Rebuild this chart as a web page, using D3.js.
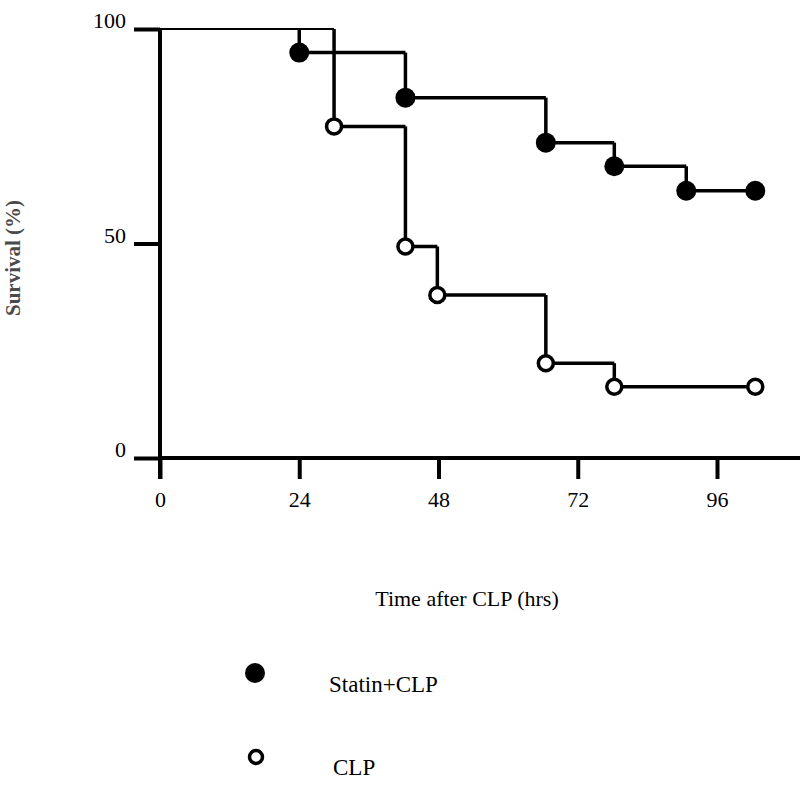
<!DOCTYPE html>
<html>
<head>
<meta charset="utf-8">
<script src="https://cdn.jsdelivr.net/npm/d3@7"></script>
<style>
  html, body { margin: 0; padding: 0; background: #fff; }
  svg { display: block; }
  text { font-family: "Liberation Serif", "Times New Roman", serif; fill: #000; }
</style>
</head>
<body>
<svg id="chart" width="800" height="787"></svg>
<script>
// ---- data ----
const xTicks = [0, 24, 48, 72, 96];
const yTicks = [0, 50, 100];
const statinTimes  = [0, 24, 42.3, 66.5, 78.3, 90.7, 102.6];
const statinValues = [100, 94.5, 84, 73.5, 68, 62.3, 62.3];
const clpTimes  = [0, 30, 42.3, 47.8, 66.5, 78.3, 102.6];
const clpValues = [100, 77.3, 49.3, 38, 22.1, 16.6, 16.6];
const seriesNames = ["Statin+CLP", "CLP"];
const xTitle = "Time after CLP (hrs)";
const yTitle = "Survival (%)";

const svg = d3.select("#chart");
const x = d3.scaleLinear().domain([0, 96]).range([160, 717]);
const y = d3.scaleLinear().domain([0, 100]).range([458, 29]);

// ---- axes ----
const axisW = 4;
// x axis line (extends to right edge)
svg.append("line").attr("x1", x(0)).attr("x2", 800).attr("y1", y(0)).attr("y2", y(0))
  .attr("stroke", "#000").attr("stroke-width", axisW);
// y axis line (extends below x axis)
svg.append("line").attr("x1", x(0)).attr("x2", x(0)).attr("y1", y(100)).attr("y2", y(0) + 21)
  .attr("stroke", "#000").attr("stroke-width", axisW);

const xAxis = d3.axisBottom(x).tickValues(xTicks).tickSize(21).tickPadding(12).tickFormat(d3.format("d"));
const gx = svg.append("g").attr("transform", `translate(0,${y(0)})`).call(xAxis);
gx.select(".domain").remove();
gx.selectAll(".tick line").attr("stroke", "#000").attr("stroke-width", axisW);
gx.selectAll(".tick text").attr("font-size", 22).attr("font-family", "Liberation Serif").attr("fill", "#000");

const yAxis = d3.axisLeft(y).tickValues(yTicks).tickSize(26).tickPadding(8).tickFormat(d3.format("d"));
const gy = svg.append("g").attr("transform", `translate(${x(0)},0)`).call(yAxis);
gy.select(".domain").remove();
gy.selectAll(".tick line").attr("stroke", "#000").attr("stroke-width", axisW);
gy.selectAll(".tick text").attr("font-size", 22).attr("font-family", "Liberation Serif").attr("fill", "#000")
  .attr("dy", "-0.05em");

// axis titles
svg.append("text").attr("x", 467).attr("y", 606).attr("text-anchor", "middle")
  .attr("font-size", 22).text(xTitle);
svg.append("text").attr("transform", "translate(20,258) rotate(-90)").attr("text-anchor", "middle")
  .attr("font-size", 21).attr("font-weight", "bold").style("fill", "#4a4a4a").text(yTitle);

// ---- step curves ----
function drawSeries(times, values, filled) {
  const g = svg.append("g");
  for (let i = 0; i < times.length - 1; i++) {
    // horizontal
    g.append("line")
      .attr("x1", x(times[i])).attr("x2", x(times[i + 1]))
      .attr("y1", y(values[i])).attr("y2", y(values[i]))
      .attr("stroke", "#000").attr("stroke-width", values[i] === 100 ? 2 : 3.5);
    // vertical drop
    if (values[i + 1] !== values[i]) {
      g.append("line")
        .attr("x1", x(times[i + 1])).attr("x2", x(times[i + 1]))
        .attr("y1", y(values[i])).attr("y2", y(values[i + 1]))
        .attr("stroke", "#000").attr("stroke-width", 3.5);
    }
  }
  const pts = times.map((t, i) => ({ t, v: values[i] })).slice(1);
  g.selectAll("circle").data(pts).join("circle")
    .attr("cx", d => x(d.t)).attr("cy", d => y(d.v))
    .attr("r", filled ? 10 : 7.5)
    .attr("fill", filled ? "#000" : "#fff")
    .attr("stroke", "#000").attr("stroke-width", filled ? 0 : 3.5);
}
drawSeries(clpTimes, clpValues, false);
drawSeries(statinTimes, statinValues, true);

// ---- legend ----
svg.append("circle").attr("cx", 255).attr("cy", 673).attr("r", 10).attr("fill", "#000");
svg.append("text").attr("x", 329).attr("y", 692).attr("font-size", 23).text(seriesNames[0]);
svg.append("circle").attr("cx", 256).attr("cy", 757).attr("r", 6.5).attr("fill", "#fff")
  .attr("stroke", "#000").attr("stroke-width", 3.5);
svg.append("text").attr("x", 333).attr("y", 775).attr("font-size", 23).text(seriesNames[1]);
</script>
</body>
</html>
